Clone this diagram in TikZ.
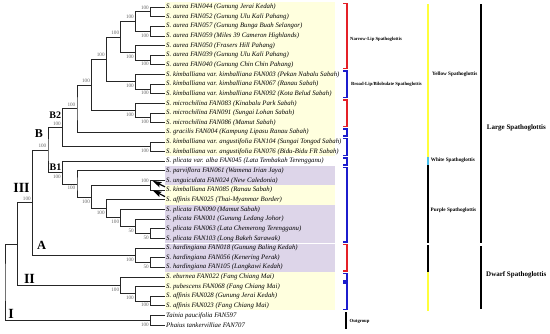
\documentclass[tikz,border=0pt]{standalone}
\usepackage{fontspec}
\setmainfont{Liberation Serif}
\usepackage{xcolor}
\usepackage{tikz}
\usetikzlibrary{arrows.meta}

\definecolor{hiyellow}{RGB}{255,255,222}
\definecolor{hipurple}{RGB}{221,213,233}
\definecolor{grpred}{RGB}{228,32,40}
\definecolor{grpblue}{RGB}{28,28,205}
\definecolor{lineyellow}{RGB}{255,255,60}
\definecolor{linecyan}{RGB}{70,190,235}

\begin{document}
\begin{tikzpicture}[
  x=1pt, y=-1pt,
  branch/.style={line width=0.8pt, black!85},
  leaf/.style={anchor=west, inner sep=1.5pt, font=\fontsize{6.8}{7.5}\selectfont\itshape},
  boot/.style={inner sep=0pt, text=black!60, font=\fontsize{5.2}{6}\selectfont},
  bootup/.style={boot, anchor=south east, xshift=-1.5pt, yshift=2.3pt},
  bootdn/.style={boot, anchor=north east, xshift=-1.5pt, yshift=-2.3pt},
  clade/.style={inner sep=0pt, font=\bfseries\fontsize{#1}{#1}\selectfont},
  grp/.style={line width=1.7pt},
  tag/.style={anchor=west, inner sep=0pt, font=\bfseries\fontsize{4.7}{5}\selectfont},
  rank/.style={line width=2pt},
  rankname/.style={anchor=west, inner sep=0pt, font=\bfseries\fontsize{#1}{#1}\selectfont},
  pointer/.style={line width=1.2pt, -{Stealth[length=9pt, width=5.5pt, inset=1.5pt]}}
]
\useasboundingbox (0,0) rectangle (550,333);

% shaded bands behind the labels
\fill [hiyellow] (165,2.2) rectangle (335,156.4);
\fill [hipurple] (165,166.1) rectangle (335,185.3);
\fill [hiyellow] (165,185.3) rectangle (335,204.6);
\fill [hipurple] (165,204.6) rectangle (335,243.2);
\fill [hipurple] (165,244.4) rectangle (335,272.1);
\fill [hiyellow] (165,272.1) rectangle (335,310.4);

% taxa
\node (a044)  [leaf] at (164.5,7.00)   {S. aurea FAN044 (Gunung Jerai Kedah)};
\node (a052)  [leaf] at (164.5,16.64)  {S. aurea FAN052 (Gunung Ulu Kali Pahang)};
\node (a057)  [leaf] at (164.5,26.28)  {S. aurea FAN057 (Gunung Bunga Buah Selangor)};
\node (a059)  [leaf] at (164.5,35.92)  {S. aurea FAN059 (Miles 39 Cameron Highlands)};
\node (a050)  [leaf] at (164.5,45.56)  {S. aurea FAN050 (Frasers Hill Pahang)};
\node (a039)  [leaf] at (164.5,55.20)  {S. aurea FAN039 (Gunung Ulu Kali Pahang)};
\node (a040)  [leaf] at (164.5,64.84)  {S. aurea FAN040 (Gunung Chin Chin Pahang)};
\node (k003)  [leaf] at (164.5,74.48)  {S. kimballiana var. kimballiana FAN003 (Pekan Nabalu Sabah)};
\node (k067)  [leaf] at (164.5,84.12)  {S. kimballiana var. kimballiana FAN067 (Ranau Sabah)};
\node (k092)  [leaf] at (164.5,93.76)  {S. kimballiana var. kimballiana FAN092 (Kota Belud Sabah)};
\node (m083)  [leaf] at (164.5,103.40) {S. microchilina FAN083 (Kinabalu Park Sabah)};
\node (m091)  [leaf] at (164.5,113.04) {S. microchilina FAN091 (Sungai Lohan Sabah)};
\node (m086)  [leaf] at (164.5,122.68) {S. microchilina FAN086 (Mamut Sabah)};
\node (g004)  [leaf] at (164.5,132.32) {S. gracilis FAN004 (Kampung Lipasu Ranau Sabah)};
\node (ka104) [leaf] at (164.5,141.96) {S. kimballiana var. angustifolia FAN104 (Sungai Tongod Sabah)};
\node (ka076) [leaf] at (164.5,151.60) {S. kimballiana var. angustifolia FAN076 (Bidu-Bidu FR Sabah)};
\node (pa045) [leaf] at (164.5,161.24) {S. plicata var. alba FAN045 (Lata Tembakah Terengganu)};
\node (pv061) [leaf] at (164.5,170.88) {S. parviflora FAN061 (Wamena Irian Jaya)};
\node (un024) [leaf] at (164.5,180.52) {S. unguiculata FAN024 (New Caledonia)};
\node (ki085) [leaf] at (164.5,190.16) {S. kimballiana FAN085 (Ranau Sabah)};
\node (af025) [leaf] at (164.5,199.80) {S. affinis FAN025 (Thai-Myanmar Border)};
\node (pl090) [leaf] at (164.5,209.44) {S. plicata FAN090 (Mamut Sabah)};
\node (pl001) [leaf] at (164.5,219.08) {S. plicata FAN001 (Gunung Ledang Johor)};
\node (pl063) [leaf] at (164.5,228.72) {S. plicata FAN063 (Lata Chemerong Terengganu)};
\node (pl103) [leaf] at (164.5,238.36) {S. plicata FAN103 (Long Bakeh Sarawak)};
\node (h018)  [leaf] at (164.5,248.00) {S. hardingiana FAN018 (Gunung Baling Kedah)};
\node (h056)  [leaf] at (164.5,257.64) {S. hardingiana FAN056 (Kenering Perak)};
\node (h105)  [leaf] at (164.5,267.28) {S. hardingiana FAN105 (Langkawi Kedah)};
\node (eb022) [leaf] at (164.5,276.92) {S. eburnea FAN022 (Fang Chiang Mai)};
\node (pu068) [leaf] at (164.5,286.56) {S. pubescens FAN068 (Fang Chiang Mai)};
\node (af028) [leaf] at (164.5,296.20) {S. affinis FAN028 (Gunung Jerai Kedah)};
\node (af023) [leaf] at (164.5,305.84) {S. affinis FAN023 (Fang Chiang Mai)};
\node (tp597) [leaf] at (164.5,315.48) {Tainia paucifolia FAN597};
\node (pt707) [leaf] at (164.5,325.12) {Phaius tankervilliae FAN707};

% internal nodes
\coordinate (n12)    at (150.5,11.82);
\coordinate (n34)    at (150.5,31.10);
\coordinate (n1234)  at (135.5,21.46);
\coordinate (n67)    at (150.5,60.02);
\coordinate (n567)   at (135.5,52.79);
\coordinate (naur)   at (120.8,37.13);
\coordinate (n910)   at (150.5,88.94);
\coordinate (nkim)   at (135.5,81.71);
\coordinate (nak)    at (106.3,59.42);
\coordinate (n1213)  at (150.5,117.86);
\coordinate (nmic)   at (135.5,110.63);
\coordinate (namic)  at (91.6,85.03);
\coordinate (ngra)   at (77,108.68);
\coordinate (nang)   at (150.5,146.78);
\coordinate (nB2)    at (62.5,127.73);
\coordinate (n1920)  at (150.5,185.34);
\coordinate (n2425)  at (150.5,233.54);
\coordinate (n23)    at (135.5,226.31);
\coordinate (n22)    at (120.8,217.88);
\coordinate (n21)    at (106.3,208.84);
\coordinate (n19)    at (91.6,197.09);
\coordinate (n18)    at (77,183.99);
\coordinate (nB1)    at (62.5,172.62);
\coordinate (nB)     at (48,150.18);
\coordinate (nh2728) at (150.5,262.46);
\coordinate (nhard)  at (135.5,255.23);
\coordinate (nA)     at (32.5,202.71);
\coordinate (n3132)  at (150.5,301.02);
\coordinate (n30)    at (135.5,293.79);
\coordinate (nII)    at (120.8,285.36);
\coordinate (nIII)   at (17.5,244.04);
\coordinate (nout)   at (150.5,320.30);
\coordinate (root)   at (5,282.17);

% branches
\draw [branch] (a044) -| (n12) |- (a052);
\draw [branch] (a057) -| (n34) |- (a059);
\draw [branch] (n12) -| (n1234) |- (n34);
\draw [branch] (a039) -| (n67) |- (a040);
\draw [branch] (a050) -| (n567) |- (n67);
\draw [branch] (n1234) -| (naur) |- (n567);
\draw [branch] (k067) -| (n910) |- (k092);
\draw [branch] (k003) -| (nkim) |- (n910);
\draw [branch] (naur) -| (nak) |- (nkim);
\draw [branch] (m091) -| (n1213) |- (m086);
\draw [branch] (m083) -| (nmic) |- (n1213);
\draw [branch] (nak) -| (namic) |- (nmic);
\draw [branch] (namic) -| (ngra) |- (g004);
\draw [branch] (ka104) -| (nang) |- (ka076);
\draw [branch] (ngra) -| (nB2) |- (nang);
\draw [branch] (un024) -| (n1920) |- (ki085);
\draw [branch] (pl063) -| (n2425) |- (pl103);
\draw [branch] (pl001) -| (n23) |- (n2425);
\draw [branch] (pl090) -| (n22) |- (n23);
\draw [branch] (af025) -| (n21) |- (n22);
\draw [branch] (n1920) -| (n19) |- (n21);
\draw [branch] (pv061) -| (n18) |- (n19);
\draw [branch] (pa045) -| (nB1) |- (n18);
\draw [branch] (nB2) -| (nB) |- (nB1);
\draw [branch] (h056) -| (nh2728) |- (h105);
\draw [branch] (h018) -| (nhard) |- (nh2728);
\draw [branch] (nB) -| (nA) |- (nhard);
\draw [branch] (af028) -| (n3132) |- (af023);
\draw [branch] (pu068) -| (n30) |- (n3132);
\draw [branch] (eb022) -| (nII) |- (n30);
\draw [branch] (nA) -| (nIII) |- (nII);
\draw [branch] (tp597) -| (nout) |- (pt707);
\draw [branch] (nIII) -| (root) |- (nout);

% bootstrap values
\node (b12)    [bootup] at (n12)    {100};
\node (b34)    [bootdn] at (n34)    {100};
\node (b1234)  [bootup] at (n1234)  {100};
\node (b67)    [bootdn] at (n67)    {100};
\node (b567)   [bootdn] at (n567)   {100};
\node (baur)   [bootup] at (naur)   {100};
\node (b910)   [bootdn] at (n910)   {100};
\node (bkim)   [bootdn] at (nkim)   {100};
\node (bak)    [bootup] at (nak)    {100};
\node (b1213)  [bootdn] at (n1213)  {100};
\node (bmic)   [bootdn] at (nmic)   {100};
\node (bamic)  [bootup] at (namic)  {100};
\node (bgra)   [bootup] at (ngra)   {100};
\node (bang)   [bootdn] at (nang)   {100};
\node (bB2)    [bootup] at (nB2)    {100};
\node (b1920)  [bootup] at (n1920)  {100};
\node (b2425)  [bootdn] at (n2425)  {50};
\node (b23)    [bootdn] at (n23)    {50};
\node (b22)    [bootdn] at (n22)    {100};
\node (b21)    [bootdn] at (n21)    {100};
\node (b19)    [bootdn] at (n19)    {100};
\node (b18)    [bootdn] at (n18)    {100};
\node (bB1)    [bootdn] at (nB1)    {100};
\node (bB)     [bootup] at (nB)     {100};
\node (bh2728) [bootdn] at (nh2728) {50};
\node (bhard)  [bootdn] at (nhard)  {100};
\node (bA)     [bootup] at (nA)     {100};
\node (b3132)  [bootdn] at (n3132)  {100};
\node (b30)    [bootdn] at (n30)    {100};
\node (bII)    [bootdn] at (nII)    {100};
\node (bout)   [bootdn] at (nout)   {100};

% clade names
\node (cIII) [clade=14]   at (21.5,188)   {III};
\node (cB)   [clade=12]   at (39,133.5)   {B};
\node (cB2)  [clade=10]   at (55.2,115.5) {B2};
\node (cB1)  [clade=10]   at (55.5,167)   {B1};
\node (cA)   [clade=12.5] at (41.7,245)   {A};
\node (cII)  [clade=14]   at (29.5,278.7) {II};
\node (cI)   [clade=14]   at (11.2,313.8) {I};

% arrows to the two misplaced taxa
\coordinate (arwA) at (165,186.8);
\coordinate (tipA) at (152.5,180.8);
\coordinate (arwB) at (165,196.6);
\coordinate (tipB) at (152.5,190.2);
\draw [pointer] (arwA) -- (tipA);
\draw [pointer] (arwB) -- (tipB);

% lip groups
\draw [grp, grpred]  (343.3,3.5)   -| (346.7,68.6)  -- (343.3,68.6);
\draw [grp, grpblue] (343.3,71)    -| (346.7,97.6)  -- (343.3,97.6);
\draw [grp, grpred]  (343.3,99.9)  -| (346.7,126.5) -- (343.3,126.5);
\draw [grp, grpblue] (343.3,128.8) -| (346.7,136.1) -- (343.3,136.1);
\draw [grp, grpblue] (343.3,138.5) -| (346.7,155.4) -- (343.3,155.4);
\draw [grp, grpblue] (343.3,157.7) -| (346.7,165)   -- (343.3,165);
\draw [grp, grpblue] (343.3,167.4) -| (346.7,242.2) -- (343.3,242.2);
\draw [grp, grpred]  (343.3,244.5) -| (346.7,271.1) -- (343.3,271.1);
\draw [grp, grpblue] (343.3,273.4) -| (346.7,280.7) -- (343.3,280.7);
\draw [grp, grpblue] (343.3,283.1) -| (346.7,309.6) -- (343.3,309.6);
\draw [grp, black]   (346.2,312)   -- (346.2,328.9);
\node (narrow) [tag] at (350,39.3)  {Narrow-Lip Spathoglottis};
\node (broad)  [tag] at (351,84.3)  {Broad-Lip/Bilobulate Spathoglottis};
\node (outg)   [tag] at (349.5,321) {Outgroup};

% flower colour
\draw [rank, lineyellow] (427.5,4)     -- (427.5,156.8);
\draw [rank, linecyan]   (427.5,156.8) -- (427.5,165.2);
\draw [rank, black]      (427.5,165.2) -- (427.5,243.3);
\draw [rank, black]      (427.5,245)   -- (427.5,272);
\draw [rank, lineyellow] (427.5,272)   -- (427.5,310.5);
\node (yellow) [rankname=5.2] at (432,74.3)    {Yellow Spathoglottis};
\node (white)  [rankname=5.2] at (430.7,160.7) {White Spathoglottis};
\node (purple) [rankname=5.2] at (430.5,210.7) {Purple Spathoglottis};

% plant size
\draw [rank, black] (481,4)   -- (481,242.7);
\draw [rank, black] (481,246) -- (481,309);
\node (large) [rankname=7] at (486.7,128.3) {Large Spathoglottis};
\node (dwarf) [rankname=7] at (486,275)     {Dwarf Spathoglottis};
\end{tikzpicture}
\end{document}
